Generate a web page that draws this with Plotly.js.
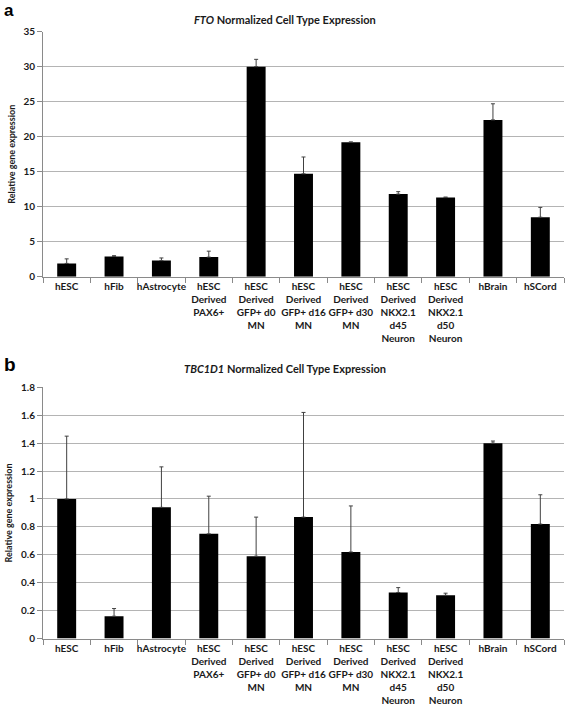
<!DOCTYPE html>
<html>
<head>
<meta charset="utf-8">
<script src="https://cdn.plot.ly/plotly-3.0.1.min.js"></script>
<style>
html,body{margin:0;padding:0;background:#fff;}
#chart{width:567px;height:707px;}
</style>
</head>
<body>
<div id="chart"></div>
<script>
// Data
var categories = [
  "hESC",
  "hFib",
  "hAstrocyte",
  "hESC<br>Derived<br>PAX6+",
  "hESC<br>Derived<br>GFP+ d0<br>MN",
  "hESC<br>Derived<br>GFP+ d16<br>MN",
  "hESC<br>Derived<br>GFP+ d30<br>MN",
  "hESC<br>Derived<br>NKX2.1<br>d45<br>Neuron",
  "hESC<br>Derived<br>NKX2.1<br>d50<br>Neuron",
  "hBrain",
  "hSCord"
];
var ftoValues = [1.9, 2.9, 2.3, 2.8, 30.0, 14.7, 19.2, 11.8, 11.3, 22.4, 8.5];
var ftoErrors = [0.65, 0.1, 0.38, 0.85, 1.05, 2.4, 0.05, 0.35, 0.08, 2.3, 1.4];
var tbcValues = [1.0, 0.16, 0.94, 0.75, 0.59, 0.87, 0.62, 0.33, 0.31, 1.4, 0.82];
var tbcErrors = [0.45, 0.055, 0.29, 0.27, 0.28, 0.75, 0.33, 0.035, 0.015, 0.015, 0.21];
var ftoTitle = "<i>FTO</i> Normalized Cell Type Expression";
var tbcTitle = "<i>TBC1D1</i> Normalized Cell Type Expression";
var yTitle = "Relative gene expression";

var FONT = "Lato, 'Open Sans', sans-serif";
var err = function(arr){
  return {type:'data', symmetric:false, array:arr, arrayminus:arr.map(function(){return 0;}),
          visible:true, color:'#404040', thickness:1, width:2};
};

var traces = [
  {type:'bar', x:categories, y:ftoValues, error_y:err(ftoErrors), marker:{color:'#000'}, xaxis:'x', yaxis:'y', showlegend:false, hoverinfo:'none'},
  {type:'bar', x:categories, y:tbcValues, error_y:err(tbcErrors), marker:{color:'#000'}, xaxis:'x2', yaxis:'y2', showlegend:false, hoverinfo:'none'}
];

var xBase = {
  type:'category', showline:true, linecolor:'#8a8a8a', linewidth:1,
  ticks:'outside', tickson:'boundaries', ticklen:5, tickcolor:'#8a8a8a',
  tickfont:{family:FONT, size:10, color:'#1a1a1a', weight:'bold'},
  showgrid:false, zeroline:false, domain:[0,1], tickangle:0, fixedrange:true
};
var yBase = {
  showline:true, linecolor:'#8a8a8a', linewidth:1,
  ticks:'outside', ticklen:5, tickcolor:'#8a8a8a',
  tickfont:{family:FONT, size:10, color:'#1a1a1a', weight:'bold'},
  showgrid:true, gridcolor:'#b4b4b4', gridwidth:1, zeroline:false,
  title:{text:yTitle, font:{family:FONT, size:9, color:'#1a1a1a', weight:'bold'}, standoff:6},
  fixedrange:true
};

var layout = {
  width:567, height:707,
  margin:{l:43, r:3, t:0, b:0},
  paper_bgcolor:'#fff', plot_bgcolor:'#fff',
  bargap:0.6,
  font:{family:FONT},
  xaxis: Object.assign({}, xBase, {anchor:'y'}),
  yaxis: Object.assign({}, yBase, {domain:[0.6086, 0.9552], range:[0,35], dtick:5, anchor:'x'}),
  xaxis2: Object.assign({}, xBase, {anchor:'y2'}),
  yaxis2: Object.assign({}, yBase, {domain:[0.0968, 0.4522], range:[0,1.8], dtick:0.2, anchor:'x2'}),
  annotations:[
    {text:ftoTitle, xref:'paper', yref:'paper', x:0.4645, y:(707-20)/707, xanchor:'center', yanchor:'middle', showarrow:false, font:{family:FONT, size:11, color:'#1a1a1a', weight:'bold'}},
    {text:tbcTitle, xref:'paper', yref:'paper', x:0.4645, y:(707-369)/707, xanchor:'center', yanchor:'middle', showarrow:false, font:{family:FONT, size:11, color:'#1a1a1a', weight:'bold'}},
    {text:'a', xref:'paper', yref:'paper', x:-41/521, y:(707-10)/707, xanchor:'left', yanchor:'middle', showarrow:false, font:{family:'Liberation Sans, Arial, sans-serif', size:17, color:'#000', weight:'bold'}},
    {text:'b', xref:'paper', yref:'paper', x:-41/521, y:(707-365)/707, xanchor:'left', yanchor:'middle', showarrow:false, font:{family:'Liberation Sans, Arial, sans-serif', size:19, color:'#000', weight:'bold'}}
  ]
};

Plotly.newPlot('chart', traces, layout, {staticPlot:true, displayModeBar:false});
</script>
</body>
</html>
